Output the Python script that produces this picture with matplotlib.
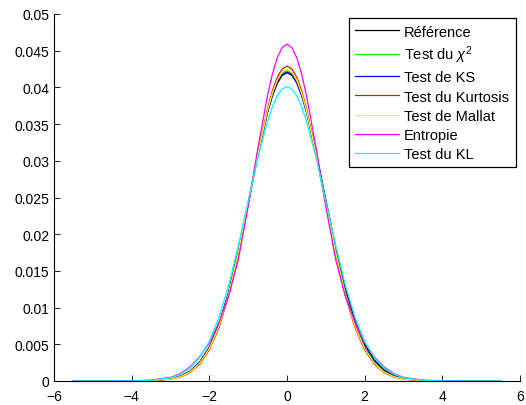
import matplotlib
matplotlib.use("Agg")
import matplotlib.pyplot as plt
from matplotlib.ticker import FormatStrFormatter

# sample positions
x = [-5.5, -4.5, -4, -3.5, -3, -2.75, -2.5, -2.25, -2, -1.75, -1.5, -1.25, -1,
     -0.75, -0.5, -0.375, -0.25, -0.125, 0, 0.125, 0.25, 0.375, 0.5, 0.75, 1,
     1.25, 1.5, 1.75, 2, 2.25, 2.5, 2.75, 3, 3.5, 4, 4.5, 5.5]

reference = [0, 0, 0.00001, 0.00005, 0.00029, 0.00065, 0.00134, 0.00257, 0.00462,
             0.00775, 0.01214, 0.01774, 0.0242, 0.0308, 0.03659, 0.03887, 0.04057,
             0.04164, 0.0420, 0.04165, 0.04063, 0.03898, 0.03678, 0.03115, 0.02469,
             0.01831, 0.01271, 0.00825, 0.00501, 0.00285, 0.00152, 0.00076, 0.00035,
             0.00006, 0.00001, 0, 0]
chi2 = [0, 0, 0.00001, 0.00004, 0.00027, 0.00061, 0.00128, 0.00248, 0.00451,
        0.00761, 0.012, 0.01764, 0.02417, 0.03087, 0.03677, 0.0391, 0.04085,
        0.04193, 0.0423, 0.04193, 0.04085, 0.0391, 0.03677, 0.03087, 0.02417,
        0.01764, 0.012, 0.00761, 0.00451, 0.00248, 0.00128, 0.00061, 0.00027,
        0.00004, 0.00001, 0, 0]
ks = [0, 0, 0.00001, 0.00005, 0.00029, 0.00064, 0.00132, 0.00255, 0.00459,
      0.00772, 0.0121, 0.01772, 0.02419, 0.03083, 0.03665, 0.03894, 0.04067,
      0.04174, 0.0421, 0.04174, 0.04067, 0.03894, 0.03665, 0.03083, 0.02419,
      0.01772, 0.0121, 0.00772, 0.00459, 0.00255, 0.00132, 0.00064, 0.00029,
      0.00005, 0.00001, 0, 0]
kurtosis = [0, 0, 0, 0.00003, 0.00024, 0.00054, 0.00116, 0.0023, 0.00425,
            0.00731, 0.01168, 0.01738, 0.02407, 0.03099, 0.03713, 0.03955, 0.04138,
            0.04251, 0.0429, 0.04251, 0.04138, 0.03955, 0.03713, 0.03099, 0.02407,
            0.01738, 0.01168, 0.00731, 0.00425, 0.0023, 0.00116, 0.00054, 0.00024,
            0.00003, 0, 0, 0]
mallat = [0, 0, 0.00001, 0.00004, 0.00026, 0.00059, 0.00124, 0.00242, 0.00442,
          0.00751, 0.0119, 0.01755, 0.02414, 0.03091, 0.0369, 0.03925, 0.04102,
          0.04213, 0.0425, 0.04213, 0.04102, 0.03925, 0.0369, 0.03091, 0.02414,
          0.01755, 0.0119, 0.00751, 0.00442, 0.00242, 0.00124, 0.00059, 0.00026,
          0.00004, 0.00001, 0, 0]
entropie = [0, 0, 0.00003, 0.00012, 0.0005, 0.001, 0.0019, 0.0033, 0.0052,
            0.0080, 0.0116, 0.0166, 0.0238, 0.03172, 0.03895, 0.04185, 0.04405,
            0.04543, 0.0459, 0.04543, 0.04405, 0.04185, 0.03895, 0.03172, 0.0238,
            0.0166, 0.0116, 0.0080, 0.0052, 0.0033, 0.0019, 0.001, 0.0005,
            0.00012, 0.00003, 0, 0]
kl = [0, 0, 0.00001, 0.00009, 0.00045, 0.00091, 0.00176, 0.0032, 0.0054,
      0.0087, 0.0131, 0.0185, 0.0245, 0.0304, 0.03539, 0.03738, 0.03887,
      0.03979, 0.0401, 0.03979, 0.03887, 0.03738, 0.03539, 0.0304, 0.0245,
      0.0185, 0.0131, 0.0087, 0.0054, 0.0032, 0.00176, 0.00091, 0.00045,
      0.00009, 0.00001, 0, 0]

series = [reference, chi2, ks, kurtosis, mallat, entropie, kl]
labels = ['Référence', r'Test du $\chi^2$', 'Test de KS', 'Test du Kurtosis',
          'Test de Mallat', 'Entropie', 'Test du KL']
colors = ['#000000', '#00ff00', '#0000ff', '#ff0000', '#ffff00', '#ff00ff', '#00ffff']

plt.rcParams['font.family'] = ['Liberation Sans', 'DejaVu Sans']
plt.rcParams['font.size'] = 10
plt.rcParams['mathtext.fontset'] = 'custom'
plt.rcParams['mathtext.rm'] = 'Liberation Sans'
plt.rcParams['mathtext.it'] = 'Liberation Sans:italic'

fig = plt.figure(figsize=(5.26, 4.06), dpi=100)
ax = fig.add_axes([54 / 526, 24 / 406, 466 / 526, 367 / 406])

for ys, lab, col in zip(series, labels, colors):
    ax.plot(x, ys, color=col, lw=0.9, label=lab)

ax.set_xlim(-6, 6)
ax.set_ylim(0, 0.05)
ax.set_xticks(range(-6, 7, 2))
ax.set_yticks([i * 0.005 for i in range(11)])
ax.yaxis.set_major_formatter(FormatStrFormatter('%g'))
ax.spines['top'].set_visible(False)
ax.spines['right'].set_visible(False)
ax.tick_params(direction='in', length=4, width=0.6, labelsize=10)
ax.tick_params(axis='x', pad=5.5)
for s in ('left', 'bottom'):
    ax.spines[s].set_linewidth(0.8)

leg = ax.legend(loc='upper right', bbox_to_anchor=(0.9908, 0.989), borderaxespad=0,
                fancybox=False, framealpha=1, edgecolor='black', handlelength=3.0,
                labelspacing=0.35, borderpad=0.45, handletextpad=0.35, fontsize=10.5)
leg.get_frame().set_linewidth(0.9)

fig.savefig('out.png', dpi=100)
